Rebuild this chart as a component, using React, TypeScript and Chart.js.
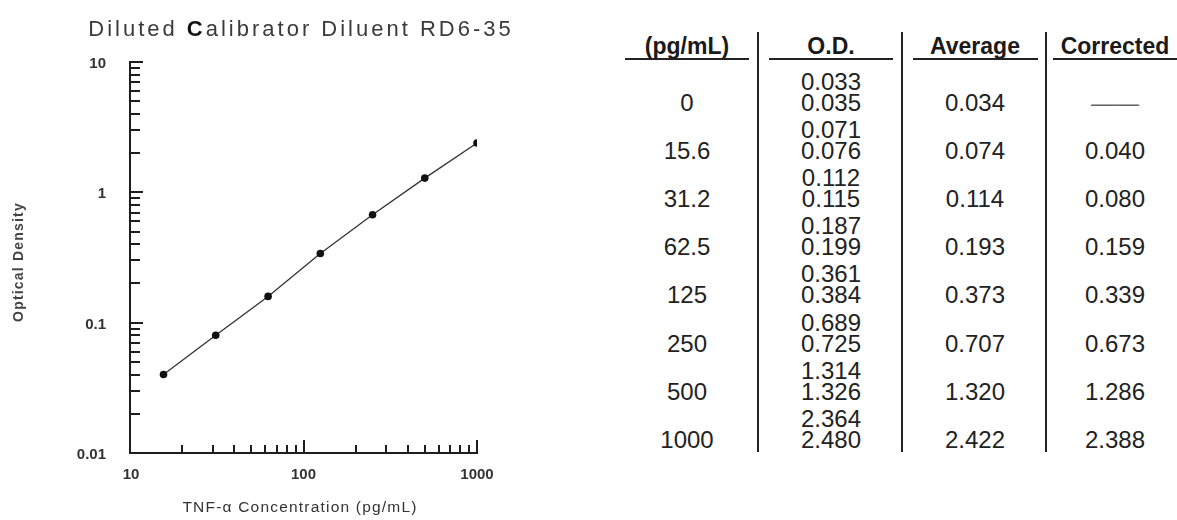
import React, { useEffect, useRef } from 'react';
import Chart from 'chart.js/auto';

// ---- Curve data (standard concentrations vs corrected O.D.) ----
const concentrations = [15.6, 31.2, 62.5, 125, 250, 500, 1000];
const correctedOD = [0.04, 0.08, 0.159, 0.339, 0.673, 1.286, 2.388];

// ---- Axis ticks ----
const xTickValues = [10, 100, 1000];
const xTickLabels = ['10', '100', '1000'];
const yTickValues = [0.01, 0.1, 1, 10];
const yTickLabels = ['0.01', '0.1', '1', '10'];
const xDecades = [10, 100];
const yDecades = [0.01, 0.1, 1];
const minorMultipliers = [2, 3, 4, 5, 6, 7, 8, 9];

// ---- Table data ----
const tableHeaders = ['(pg/mL)', 'O.D.', 'Average', 'Corrected'];
const standardLabels = ['0', '15.6', '31.2', '62.5', '125', '250', '500', '1000'];
const odFirst = [0.033, 0.071, 0.112, 0.187, 0.361, 0.689, 1.314, 2.364];
const odSecond = [0.035, 0.076, 0.115, 0.199, 0.384, 0.725, 1.326, 2.48];
const averages = [0.034, 0.074, 0.114, 0.193, 0.373, 0.707, 1.32, 2.422];
const correctedCol = ['——', '0.040', '0.080', '0.159', '0.339', '0.673', '1.286', '2.388'];

const chartTitle = ['Diluted ', 'C', 'alibrator Diluent RD6-35'];
const xTitle = 'TNF-α Concentration (pg/mL)';
const yTitle = 'Optical Density';

const FONT = '"Liberation Sans", Arial, Helvetica, sans-serif';

const decorPlugin = {
  id: 'decor',
  afterDraw(chart: any) {
    const ctx = chart.ctx as CanvasRenderingContext2D;
    const xs = chart.scales.x;
    const ys = chart.scales.y;
    const ca = chart.chartArea;
    ctx.save();
    ctx.strokeStyle = '#1e1e1e';
    ctx.lineWidth = 2;
    ctx.lineCap = 'butt';
    // axes
    ctx.beginPath();
    ctx.moveTo(ca.left, ys.getPixelForValue(10) - 1);
    ctx.lineTo(ca.left, ca.bottom);
    ctx.lineTo(ca.right + 1, ca.bottom);
    ctx.stroke();
    // y ticks (inward, to the right)
    ctx.beginPath();
    yDecades.forEach((d) => {
      minorMultipliers.forEach((m) => {
        const y = Math.round(ys.getPixelForValue(d * m));
        ctx.moveTo(ca.left, y);
        ctx.lineTo(ca.left + 10, y);
      });
    });
    yTickValues.forEach((v) => {
      const y = Math.round(ys.getPixelForValue(v));
      ctx.moveTo(ca.left, y);
      ctx.lineTo(ca.left + 13, y);
    });
    // x ticks (inward, upward)
    xDecades.forEach((d) => {
      minorMultipliers.forEach((m) => {
        const x = Math.round(xs.getPixelForValue(d * m));
        ctx.moveTo(x, ca.bottom);
        ctx.lineTo(x, ca.bottom - 8);
      });
    });
    xTickValues.forEach((v) => {
      const x = Math.round(xs.getPixelForValue(v));
      ctx.moveTo(x, ca.bottom);
      ctx.lineTo(x, ca.bottom - 13);
    });
    ctx.stroke();

    // tick labels
    ctx.fillStyle = '#333';
    ctx.font = `bold 15px ${FONT}`;
    ctx.textAlign = 'right';
    ctx.textBaseline = 'middle';
    yTickValues.forEach((v, i) => {
      ctx.fillText(yTickLabels[i], ca.left - 24, ys.getPixelForValue(v) + 2);
    });
    ctx.textAlign = 'center';
    xTickValues.forEach((v, i) => {
      ctx.fillText(xTickLabels[i], xs.getPixelForValue(v) + (i === 0 ? 1 : 0), ca.bottom + 22);
    });

    // x title
    (ctx as any).letterSpacing = '1.2px';
    ctx.font = `15.5px ${FONT}`;
    ctx.fillStyle = '#333';
    ctx.fillText(xTitle, 300, 508);

    // y title
    ctx.save();
    ctx.translate(19, 262);
    ctx.rotate(-Math.PI / 2);
    (ctx as any).letterSpacing = '1.2px';
    ctx.font = `bold 14px ${FONT}`;
    ctx.fillStyle = '#444';
    ctx.fillText(yTitle, 0, 0);
    ctx.restore();

    // chart title with bold "C"
    (ctx as any).letterSpacing = '3px';
    const fonts = [`22px ${FONT}`, `bold 22px ${FONT}`, `22px ${FONT}`];
    const colors = ['#3a3a3a', '#111', '#3a3a3a'];
    let total = 0;
    const widths = chartTitle.map((s, i) => {
      ctx.font = fonts[i];
      const w = ctx.measureText(s).width;
      total += w;
      return w;
    });
    let x = 301 - total / 2;
    ctx.textAlign = 'left';
    chartTitle.forEach((s, i) => {
      ctx.font = fonts[i];
      ctx.fillStyle = colors[i];
      ctx.fillText(s, x, 30);
      x += widths[i];
    });
    ctx.restore();
  },
};

function ChartPanel() {
  const ref = useRef<HTMLCanvasElement>(null);
  useEffect(() => {
    if (!ref.current) return;
    const chart = new Chart(ref.current, {
      type: 'line',
      data: {
        datasets: [
          {
            data: concentrations.map((c, i) => ({ x: c, y: correctedOD[i] })),
            borderColor: '#333',
            borderWidth: 1.3,
            pointRadius: 3.8,
            pointBackgroundColor: '#111',
            pointBorderWidth: 0,
            tension: 0,
          },
        ],
      },
      options: {
        animation: false,
        responsive: false,
        devicePixelRatio: 1,
        layout: { padding: { left: 130, top: 62, right: 123, bottom: 67 } },
        plugins: { legend: { display: false }, tooltip: { enabled: false } },
        scales: {
          x: { type: 'logarithmic', min: 10, max: 1000, display: false },
          y: { type: 'logarithmic', min: 0.01, max: 10, display: false },
        },
      },
      plugins: [decorPlugin],
    });
    return () => chart.destroy();
  }, []);
  return <canvas ref={ref} width={600} height={520} style={{ position: 'absolute', left: 0, top: 0 }} />;
}

const colCenters = [687, 831, 975, 1115];
const underlines = [
  [625, 749],
  [769, 893],
  [913, 1038],
  [1053, 1177],
];
const separators = [758, 902, 1046];
const ROW0 = 103;
const ROW_STEP = 48.1;
const PAIR_GAP = 21;

function Cell({ cx, cy, text, bold, color }: { cx: number; cy: number; text: string; bold?: boolean; color?: string }) {
  return (
    <div
      style={{
        position: 'absolute',
        left: cx - 80,
        width: 160,
        top: cy - 12,
        height: 24,
        lineHeight: '24px',
        textAlign: 'center',
        fontFamily: FONT,
        fontSize: bold ? 23 : 24,
        fontWeight: bold ? 'bold' : 'normal',
        color: color || '#222',
        whiteSpace: 'nowrap',
      }}
    >
      {text}
    </div>
  );
}

function Table() {
  const cells: React.ReactNode[] = [];
  tableHeaders.forEach((h, i) => {
    cells.push(<Cell key={'h' + i} cx={colCenters[i]} cy={46} text={h} bold color="#1a1a1a" />);
  });
  standardLabels.forEach((s, r) => {
    const y = ROW0 + r * ROW_STEP;
    cells.push(<Cell key={'s' + r} cx={colCenters[0]} cy={y} text={s} />);
    cells.push(<Cell key={'a' + r} cx={colCenters[1]} cy={y - PAIR_GAP} text={odFirst[r].toFixed(3)} />);
    cells.push(<Cell key={'b' + r} cx={colCenters[1]} cy={y} text={odSecond[r].toFixed(3)} />);
    cells.push(<Cell key={'v' + r} cx={colCenters[2]} cy={y} text={averages[r].toFixed(3)} />);
    cells.push(<Cell key={'c' + r} cx={colCenters[3]} cy={y} text={correctedCol[r]} color={r === 0 ? '#666' : '#222'} />);
  });
  return (
    <>
      {cells}
      {underlines.map(([a, b], i) => (
        <div key={'u' + i} style={{ position: 'absolute', left: a, width: b - a, top: 58, height: 2, background: '#222' }} />
      ))}
      {separators.map((x, i) => (
        <div key={'p' + i} style={{ position: 'absolute', left: x - 1, width: 2, top: 32, height: 420, background: '#222' }} />
      ))}
    </>
  );
}

export default function App() {
  return (
    <div style={{ position: 'fixed', left: 0, top: 0, width: 1177, height: 520, background: '#fff', overflow: 'hidden' }}>
      <ChartPanel />
      <Table />
    </div>
  );
}
